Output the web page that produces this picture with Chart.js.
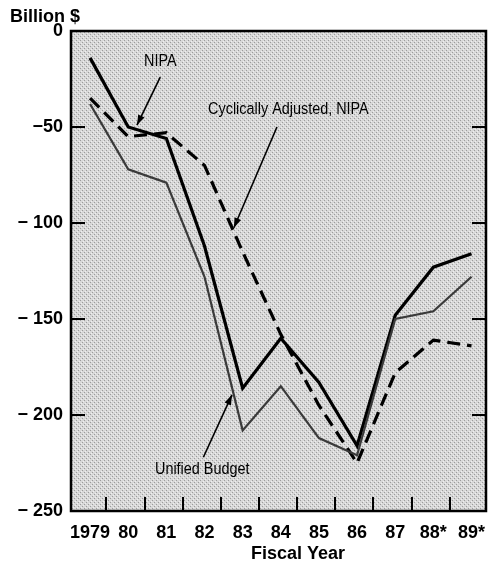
<!DOCTYPE html>
<html>
<head>
<meta charset="utf-8">
<script src="https://cdn.jsdelivr.net/npm/chart.js@4"></script>
<style>
  html, body { margin: 0; padding: 0; background: #fff; }
  #wrap { position: relative; width: 498px; height: 563px; }
</style>
</head>
<body>
<div id="wrap"><canvas id="c" width="498" height="563"></canvas></div>
<script>
// ---- Data ----
const years = ['1979', '80', '81', '82', '83', '84', '85', '86', '87', '88*', '89*'];
const nipa = [-14, -50, -56, -112, -186, -160, -183, -216, -148, -123, -116];
const cyclicallyAdjusted = [-35, -55, -53, -70, -115, -158, -195, -225, -178, -161, -164];
const unifiedBudget = [-38, -72, -79, -128, -208, -185, -212, -221, -150, -146, -128];
const yTicks = [0, -50, -100, -150, -200, -250];
const xTitle = 'Fiscal Year';
const yUnit = 'Billion $';

// annotations: [text, label idx, label value, arrow start idx, start value, tip idx, tip value]
const notes = [
  ['NIPA', 1.84, -16, 1.84, -24, 1.23, -49],
  ['Cyclically Adjusted, NIPA', 5.2, -41, 4.9, -50, 3.77, -102.5],
  ['Unified Budget', 2.94, -228.5, 2.97, -222, 3.72, -189.5]
];

const FONT = '"Liberation Sans", Arial, Helvetica, sans-serif';

function toPoints(arr) { return arr.map((v, i) => ({ x: i, y: v })); }

// halftone-like fill
function makePattern(ctx) {
  const p = document.createElement('canvas');
  p.width = 4; p.height = 4;
  const g = p.getContext('2d');
  g.fillStyle = '#d8d8d8';
  g.fillRect(0, 0, 4, 4);
  g.fillStyle = '#9c9c9c';
  g.fillRect(0, 0, 1, 1);
  g.fillRect(2, 2, 1, 1);
  g.fillStyle = '#efefef';
  g.fillRect(1, 3, 1, 1);
  g.fillRect(3, 1, 1, 1);
  return ctx.createPattern(p, 'repeat');
}

const framePlugin = {
  id: 'frame',
  beforeDatasetsDraw(chart) {
    const { ctx, chartArea: a } = chart;
    ctx.save();
    ctx.fillStyle = makePattern(ctx);
    ctx.fillRect(a.left, a.top, a.right - a.left, a.bottom - a.top);
    ctx.restore();
  },
  afterDatasetsDraw(chart) {
    const { ctx, chartArea: a } = chart;
    const xs = chart.scales.x, ys = chart.scales.y;
    ctx.save();
    ctx.strokeStyle = '#000';
    // inward ticks on left/right sides
    ctx.lineWidth = 2;
    yTicks.forEach(v => {
      if (v === 0 || v === -250) return;
      const y = Math.round(ys.getPixelForValue(v));
      ctx.beginPath();
      ctx.moveTo(a.left, y); ctx.lineTo(a.left + 14, y);
      ctx.moveTo(a.right, y); ctx.lineTo(a.right - 14, y);
      ctx.stroke();
    });
    // bottom ticks between years
    for (let i = 0; i < years.length - 1; i++) {
      const x = Math.round(xs.getPixelForValue(i + 0.43));
      ctx.beginPath();
      ctx.moveTo(x, a.bottom); ctx.lineTo(x, a.bottom - 14);
      ctx.stroke();
    }
    // frame
    ctx.lineWidth = 2.5;
    ctx.strokeRect(a.left, a.top, a.right - a.left, a.bottom - a.top);

    // annotations
    ctx.fillStyle = '#000';
    ctx.textAlign = 'center';
    ctx.textBaseline = 'middle';
    ctx.font = '16px ' + FONT;
    notes.forEach(n => {
      const [t, li, lv, si, sv, ti, tv] = n;
      const lx = xs.getPixelForValue(li), ly = ys.getPixelForValue(lv);
      const w = ctx.measureText(t).width * 0.9;
      ctx.fillText(t, lx, ly, w);
      const sx = xs.getPixelForValue(si), sy = ys.getPixelForValue(sv);
      const tx = xs.getPixelForValue(ti), ty = ys.getPixelForValue(tv);
      ctx.lineWidth = 1.6;
      ctx.beginPath();
      ctx.moveTo(sx, sy); ctx.lineTo(tx, ty);
      ctx.stroke();
      const ang = Math.atan2(ty - sy, tx - sx);
      const L = 10, W = 3.5;
      ctx.beginPath();
      ctx.moveTo(tx, ty);
      ctx.lineTo(tx - L * Math.cos(ang) + W * Math.sin(ang), ty - L * Math.sin(ang) - W * Math.cos(ang));
      ctx.lineTo(tx - L * Math.cos(ang) - W * Math.sin(ang), ty - L * Math.sin(ang) + W * Math.cos(ang));
      ctx.closePath();
      ctx.fill();
    });

    // unit label and axis title
    ctx.font = 'bold 18px ' + FONT;
    ctx.textAlign = 'left';
    ctx.fillText(yUnit, 10, 17);
    ctx.textAlign = 'center';
    ctx.fillText(xTitle, xs.getPixelForValue(5.45), 554);
    ctx.restore();
  }
};

new Chart(document.getElementById('c'), {
  type: 'line',
  data: {
    datasets: [
      { label: 'Unified Budget', data: toPoints(unifiedBudget), borderColor: '#3a3a3a', borderWidth: 2.2, pointRadius: 0, tension: 0, fill: false },
      { label: 'Cyclically Adjusted, NIPA', data: toPoints(cyclicallyAdjusted), borderColor: '#000', borderWidth: 3.2, borderDash: [13, 7], pointRadius: 0, tension: 0, fill: false },
      { label: 'NIPA', data: toPoints(nipa), borderColor: '#000', borderWidth: 3.2, pointRadius: 0, tension: 0, fill: false }
    ]
  },
  options: {
    responsive: false,
    animation: false,
    layout: { padding: { top: 31, right: 12, left: 0, bottom: 0 } },
    plugins: { legend: { display: false }, tooltip: { enabled: false } },
    scales: {
      x: {
        type: 'linear',
        min: -0.5, max: 10.38,
        grid: { display: false, drawTicks: false },
        border: { display: false },
        afterBuildTicks(s) { s.ticks = years.map((_, i) => ({ value: i })); },
        ticks: {
          color: '#000', font: { family: FONT, size: 18, weight: 'bold' }, padding: 11,
          autoSkip: false, maxRotation: 0,
          callback: v => years[v]
        },
        afterFit(s) { s.height = 52; }
      },
      y: {
        min: -250, max: 0,
        grid: { display: false, drawTicks: false },
        border: { display: false },
        afterBuildTicks(s) { s.ticks = yTicks.map(v => ({ value: v })); },
        ticks: {
          color: '#000', padding: 8,
          font: { family: FONT, size: 18, weight: 'bold' },
          callback: v => v === 0 ? '0' : (v > -100 ? '\u2212' : '\u2212 ') + Math.abs(v)
        },
        afterFit(s) { s.width = 71; }
      }
    }
  },
  plugins: [framePlugin]
});
</script>
</body>
</html>
